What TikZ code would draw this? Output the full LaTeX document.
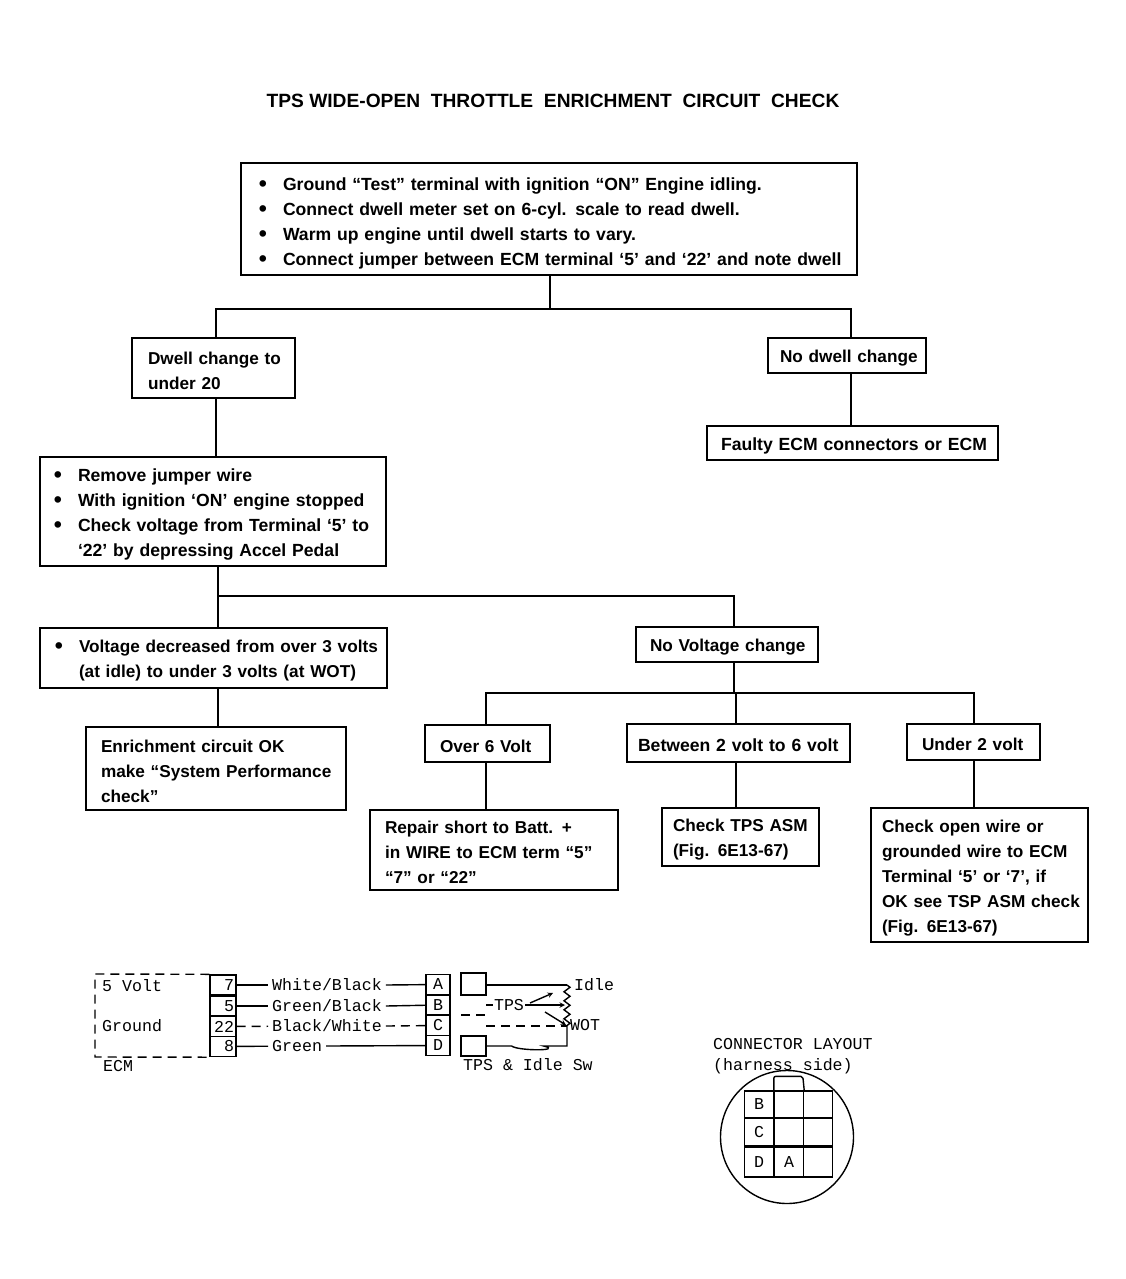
\documentclass[tikz,border=0pt]{standalone}
\usepackage{fontspec}
\setmainfont{Liberation Sans}
\setmonofont{Liberation Mono}
\usetikzlibrary{arrows.meta}
\usetikzlibrary{decorations.pathmorphing}
\newcommand{\boxtext}{\bfseries\fontsize{17.2}{25}\selectfont}
\newcommand{\widetext}{\bfseries\fontsize{17.6}{25}\selectfont}
\newcommand{\wiretext}{\ttfamily\fontsize{16.6}{20}\selectfont}
\newcommand{\itm}{\leavevmode\llap{\raisebox{-1pt}{\fontsize{23}{25}\selectfont\textbullet}\hspace{16pt}}}
\tikzset{
  box/.style n args={3}{draw,line width=1.7pt,font=\boxtext,align=left,inner ysep=0pt,
    inner xsep=0pt,text width=#1pt,minimum height=#2pt,
    execute at begin node={\leftskip=#3pt\rule{0pt}{18pt}}},
  heavy/.style={line width=2.6pt},
  line/.style={line width=1.5pt},
  wire/.style={line width=1.4pt},
  brokenwire/.style={line width=1.4pt,dash pattern=on 9pt off 6pt},
  pinbox/.style={draw,line width=1.4pt,font=\wiretext,minimum width=26pt,minimum height=20pt,
    inner sep=0pt,text width=22pt,align=right},
  sockbox/.style={draw,line width=1.4pt,font=\wiretext,minimum width=24pt,minimum height=20pt,inner sep=0pt},
  wirelabel/.style={font=\wiretext,anchor=west,inner sep=4pt,text height=11pt,text depth=1pt},
  cell/.style={draw,line width=1.4pt,font=\wiretext,minimum width=29pt,minimum height=28pt,inner sep=0pt}
}

\begin{document}
\begin{tikzpicture}[x=1pt,y=-1pt]
  \useasboundingbox (0,0) rectangle (1126,1279);
  \node (title) at (553,101) {\bfseries\fontsize{19.2}{20}\selectfont TPS\ WIDE-OPEN\ \ THROTTLE\ \ ENRICHMENT\ \ CIRCUIT\ \ CHECK};

  % flow chart boxes
  \node[box={616}{112}{42},font=\widetext] (start) at (549,219) {\itm\rule{0pt}{21pt}Ground ``Test'' terminal with ignition ``ON'' Engine idling.\\
    \itm Connect dwell meter set on 6-cyl. scale to read dwell.\\
    \itm Warm up engine until dwell starts to vary.\\
    \itm Connect jumper between ECM terminal `5' and `22' and note dwell};
  \node[box={163}{60}{16}] (dwell) at (213.5,368) {Dwell change to\\ under 20};
  \node[box={158}{35}{12}] (nodwell) at (847,355.5) {No dwell change};
  \node[box={291}{34}{14},heavy,font=\widetext] (faulty) at (852.5,443) {Faulty ECM connectors or ECM};
  \node[box={346}{109}{38},font=\widetext] (remove) at (213,511.5) {\itm Remove jumper wire\\
    \itm With ignition `ON' engine stopped\\
    \itm Check voltage from Terminal `5' to\\
    `22' by depressing Accel Pedal};
  \node[box={347}{60}{39}] (decreased) at (213.5,658) {\itm Voltage decreased from over 3 volts\\
    (at idle) to under 3 volts (at WOT)};
  \node[box={182}{35}{14}] (novolt) at (727,644.5) {No Voltage change};
  \node[box={260}{83}{15}] (enrich) at (216,768.5) {Enrichment circuit OK\\ make ``System Performance\\ check''};
  \node[box={125}{37}{15}] (over) at (487.5,743.5) {Over 6 Volt};
  \node[box={223}{38}{11},heavy,font=\widetext] (between) at (738.5,743) {Between 2 volt to 6 volt};
  \node[box={133}{36}{15}] (under) at (973.5,742) {Under 2 volt};
  \node[box={248}{80}{15}] (repair) at (494,850) {Repair short to Batt. +\\ in WIRE to ECM term ``5''\\ ``7'' or ``22''};
  \node[box={157}{58}{11}] (checktps) at (740.5,837) {Check TPS ASM\\ (Fig. 6E13-67)};
  \node[box={217}{134}{11}] (openwire) at (979.5,875) {Check open wire or\\ grounded wire to ECM\\ Terminal `5' or `7', if\\ OK see TSP ASM check\\ (Fig. 6E13-67)};

  % flow chart lines
  \coordinate (split1) at (550,309);
  \coordinate (left1) at (216,309);
  \coordinate (right1) at (851,309);
  \coordinate (split2) at (218,596);
  \coordinate (right2) at (734,596);
  \coordinate (split3) at (734,693);
  \coordinate (left3) at (486,693);
  \coordinate (mid3) at (736,693);
  \coordinate (right3) at (974,693);
  \draw[line] (start.south -| split1) -- (split1);
  \draw[line] (left1 |- dwell.north) -- (left1) -- (right1) -- (right1 |- nodwell.north);
  \draw[line] (right1 |- nodwell.south) -- (right1 |- faulty.north);
  \draw[line] (left1 |- dwell.south) -- (left1 |- remove.north);
  \draw[line] (split2 |- remove.south) -- (split2 |- decreased.north);
  \draw[line] (split2) -- (right2) -- (right2 |- novolt.north);
  \draw[line] (split2 |- decreased.south) -- (split2 |- enrich.north);
  \draw[line] (split3 |- novolt.south) -- (split3);
  \draw[line] (left3 |- over.north) -- (left3) -- (right3) -- (right3 |- under.north);
  \draw[line] (mid3) -- (mid3 |- between.north);
  \draw[line] (left3 |- over.south) -- (left3 |- repair.north);
  \draw[line] (mid3 |- between.south) -- (mid3 |- checktps.north);
  \draw[line] (right3 |- under.south) -- (right3 |- openwire.north);

  % wiring diagram
  \node[pinbox] (pin7) at (223,985) {7};
  \node[pinbox] (pin5) at (223,1006) {5};
  \node[pinbox] (pin22) at (223,1026.5) {22};
  \node[pinbox] (pin8) at (223,1046.5) {8};
  \node[sockbox] (sockA) at (438,984.5) {A};
  \node[sockbox] (sockB) at (438,1005) {B};
  \node[sockbox] (sockC) at (438,1025.5) {C};
  \node[sockbox] (sockD) at (438,1045.5) {D};
  \node[wirelabel] (wwhite) at (268,985) {White/Black};
  \node[wirelabel] (wgreenb) at (268,1006) {Green/Black};
  \node[wirelabel] (wblack) at (268,1026) {Black/White};
  \node[wirelabel] (wgreen) at (268,1046) {Green};
  \node[wirelabel] (volt) at (98,986) {5 Volt};
  \node[wirelabel] (ground) at (98,1026) {Ground};
  \node[wirelabel] (ecm) at (99,1066) {ECM};
  \coordinate (ecmtl) at (95,974);
  \coordinate (ecmbl) at (95,1057);
  \draw[brokenwire] (pin7.north west) -- (ecmtl) -- (ecmbl) -- (pin8.south west);
  \draw[wire] (pin7) -- (wwhite);
  \draw[wire] (pin5) -- (wgreenb);
  \draw[brokenwire] (pin22) -- (wblack);
  \draw[wire] (pin8) -- (wgreen);
  \draw[wire] (wwhite.east) -- (sockA);
  \draw[wire] (wgreenb.east) -- (sockB);
  \draw[brokenwire] (wblack.east) -- (sockC);
  \draw[wire] (wgreen.east) -- (sockD);

  \node[sockbox,minimum width=25pt,minimum height=22pt] (tpsA) at (473.5,984) {};
  \node[sockbox,minimum width=25pt] (tpsD) at (473.5,1046) {};
  \coordinate (tpsCl) at (461,1015);
  \coordinate (tpsCr) at (486,1015);
  \draw[brokenwire] (tpsCl) -- (tpsCr);
  \coordinate (tpsBr) at (486,1005);
  \coordinate (tpsCe) at (486,1026);
  \coordinate (idlept) at (567,985);
  \coordinate (wotpt) at (567,1026);
  \coordinate (wiper) at (565,1005);
  \coordinate (tpsDb) at (567,1046);
  \coordinate (upstart) at (530,1003);
  \coordinate (uptip) at (553,993);
  \coordinate (downstart) at (545,1012);
  \coordinate (downtip) at (566,1025);
  \node[font=\wiretext,inner sep=1pt] (tpslabel) at (509,1005) {TPS};
  \node[wirelabel,inner sep=0pt] (idle) at (574,985) {Idle};
  \node[wirelabel,inner sep=0pt] (wot) at (570,1025) {WOT};
  \node[wirelabel,inner sep=0pt] (tpssw) at (463,1065) {TPS \& Idle Sw};
  \draw[wire] (tpsA.east |- idlept) -- (idlept);
  \draw[wire,decorate,decoration={zigzag,segment length=9pt,amplitude=3pt}] (idlept) -- (wotpt);
  \draw[wire] (tpsBr) -- (tpslabel);
  \draw[wire,-stealth] (tpslabel) -- (wiper);
  \draw[wire,-stealth] (upstart) -- (uptip);
  \draw[wire,-stealth] (downstart) -- (downtip);
  \draw[brokenwire] (tpsCe) -- (wotpt);
  \draw[wire] (tpsD.east) -- ++(25,0) .. controls +(6,5) and +(20,5) .. ++(32,0) -- (tpsDb) -- (wotpt);

  % connector layout
  \node[draw,circle,line width=1.4pt,minimum size=133pt,inner sep=0pt] (plug) at (787,1137) {};
  \node[wirelabel,inner sep=0pt] (layout1) at (713,1044) {CONNECTOR LAYOUT};
  \node[wirelabel,inner sep=0pt] (layout2) at (713,1065) {(harness side)};
  \node[cell,minimum height=27pt] (cellB) at (759,1104.5) {B};
  \node[cell,minimum height=27pt] (cellT) at (789,1104.5) {};
  \node[cell,minimum height=27pt] (cellR) at (818,1104.5) {};
  \node[cell] (cellC) at (759,1132) {C};
  \node[cell] (cellM) at (789,1132) {};
  \node[cell] (cellN) at (818,1132) {};
  \node[cell,minimum height=30pt] (cellD) at (759,1162) {D};
  \node[cell,minimum height=30pt] (cellA) at (789,1162) {A};
  \node[cell,minimum height=30pt] (cellE) at (818,1162) {};
  \draw[wire,rounded corners=2pt] (cellT.north west) -- ++(0,-14) -- ++(29,0) -- (cellT.north east);
\end{tikzpicture}
\end{document}
